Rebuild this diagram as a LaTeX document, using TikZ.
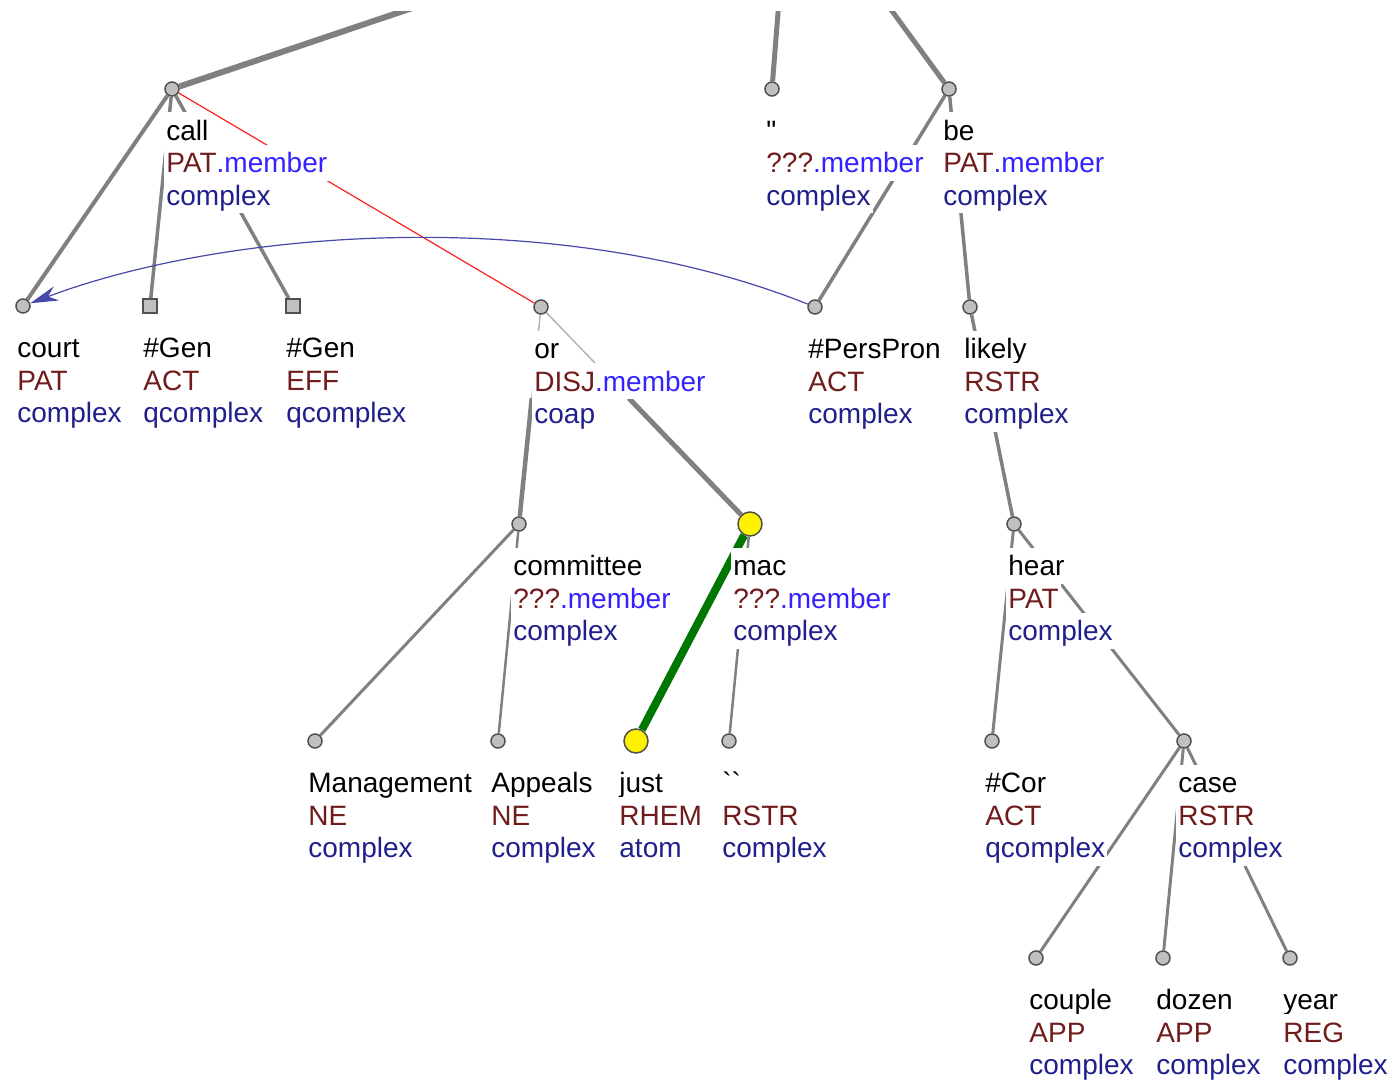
\documentclass[tikz,border=0pt]{standalone}
\usepackage{fontspec}
\setmainfont{Liberation Sans}
\newfontfamily\plainf{Liberation Sans}
\usetikzlibrary{calc,arrows.meta,backgrounds}
\definecolor{edgegray}{HTML}{808080}
\definecolor{edgelight}{HTML}{B4B4B4}
\definecolor{mkfill}{HTML}{C0C0C0}
\definecolor{mkline}{HTML}{505050}
\definecolor{fun}{HTML}{701C1C}
\definecolor{mem}{HTML}{3322FF}
\definecolor{typ}{HTML}{20208C}
\definecolor{redline}{HTML}{FF2020}
\definecolor{arrowblue}{HTML}{4848AA}
\definecolor{greenline}{HTML}{007700}
\newcommand\mb{\textcolor{mem}{.member}}
\newcommand\lab[5]{%
 \node[ln, text=black] (#1-a) at ($(#1)+(#2,51.5)$) {#3};
 \node[ln, text=fun] (#1-b) at ($(#1)+(#2,84)$) {#4};
 \node[ln, text=typ] (#1-c) at ($(#1)+(#2,116.5)$) {#5};
}
\begin{document}
\begin{tikzpicture}[x=0.5pt,y=-0.5pt,
 font=\fontsize{14}{16.25}\selectfont,
 mk/.style={circle, draw=mkline, fill=mkfill, line width=0.75pt, inner sep=0pt, minimum size=7pt},
 sq/.style={rectangle, draw=mkline, fill=mkfill, line width=0.75pt, inner sep=0pt, minimum size=7pt},
 yl/.style={circle, draw=mkline, fill=yellow, line width=0.75pt, inner sep=0pt, minimum size=12pt},
 ln/.style={anchor=base west, fill=white, inner xsep=1pt, inner ysep=0pt, text height=14pt, text depth=4pt},
 ed/.style={draw=edgegray, line width=1.75pt},
 edthin/.style={draw=edgelight, line width=0.75pt},
]
\useasboundingbox (0,0) rectangle (1394,1081);
% node markers
\node[mk] (call) at (172,89) {};
\node[mk] (court) at (23,306) {};
\node[sq] (genA) at (150,306) {};
\node[sq] (genE) at (293,306) {};
\node[mk] (or) at (541,307) {};
\node[mk] (quote) at (772,89) {};
\node[mk] (be) at (949,89) {};
\node[mk] (pp) at (815,307) {};
\node[mk] (likely) at (970,307) {};
\node[mk] (comm) at (519,524) {};
\node[yl] (mac) at (750,524) {};
\node[mk] (hear) at (1014,524) {};
\node[mk] (mgmt) at (315,741) {};
\node[mk] (appeals) at (498,741) {};
\node[yl] (just) at (636,741) {};
\node[mk] (bq) at (729,741) {};
\node[mk] (cor) at (992,741) {};
\node[mk] (case) at (1184,741) {};
\node[mk] (couple) at (1036,958) {};
\node[mk] (dozen) at (1163,958) {};
\node[mk] (year) at (1290,958) {};
\coordinate (calltop) at (436,0);
\coordinate (quotetop) at (779,0);
\coordinate (betop) at (884,0);
\coordinate (orcm) at ($(or)!0.42!(comm)$);
\coordinate (ormc) at ($(or)!0.42!(mac)$);
% edges
\begin{pgfonlayer}{background}
\begin{scope}
\clip (0,12) rectangle (1394,1081);
\draw[ed, line width=3pt] (call) -- (calltop);
\draw[ed, line width=2.5pt] (quote) -- (quotetop);
\draw[ed, line width=2.5pt] (be) -- (betop);
\end{scope}
\draw[ed, line width=2pt] (call) -- (court);
\draw[ed] (call) -- (genA);
\draw[ed] (call) -- (genE);
\draw[edthin] (or) -- (orcm);
\draw[ed, line width=2.25pt] (orcm) -- (comm);
\draw[edthin] (or) -- (ormc);
\draw[ed, line width=2.5pt] (ormc) -- (mac);
\draw[ed] (be) -- (pp);
\draw[ed] (be) -- (likely);
\draw[ed] (likely) -- (hear);
\draw[ed, line width=1.5pt] (hear) -- (cor);
\draw[ed, line width=1.5pt] (hear) -- (case);
\draw[ed, line width=1.5pt] (case) -- (couple);
\draw[ed, line width=1.5pt] (case) -- (dozen);
\draw[ed, line width=1.5pt] (case) -- (year);
\draw[ed, line width=1.5pt] (comm) -- (mgmt);
\draw[ed, line width=1.25pt] (comm) -- (appeals);
\draw[draw=greenline, line width=4pt] (mac) -- (just);
\draw[ed, line width=1.25pt] (mac) -- (bq);
\draw[draw=redline, line width=0.6pt] (call) -- (or);
\end{pgfonlayer}
% labels
\lab{call}{-8}{call}{PAT\mb}{complex}
\lab{court}{-8}{court}{PAT}{complex}
\lab{genA}{-9}{\#Gen}{ACT}{qcomplex}
\lab{genE}{-9}{\#Gen}{EFF}{qcomplex}
\lab{or}{-9}{or}{DISJ\mb}{coap}
\lab{quote}{-8}{{\plainf\symbol{34}}}{???\mb}{complex}
\lab{be}{-8}{be}{PAT\mb}{complex}
\lab{pp}{-9}{\#PersPron}{ACT}{complex}
\lab{likely}{-8}{likely}{RSTR}{complex}
\lab{comm}{-8}{committee}{???\mb}{complex}
\lab{mac}{-19}{mac}{???\mb}{complex}
\lab{hear}{-8}{hear}{PAT}{complex}
\lab{mgmt}{-9}{Management}{NE}{complex}
\lab{appeals}{-9}{Appeals}{NE}{complex}
\lab{just}{-19}{just}{RHEM}{atom}
\lab{bq}{-9}{{\plainf\symbol{96}\symbol{96}}}{RSTR}{complex}
\lab{cor}{-9}{\#Cor}{ACT}{qcomplex}
\lab{case}{-8}{case}{RSTR}{complex}
\lab{couple}{-9}{couple}{APP}{complex}
\lab{dozen}{-9}{dozen}{APP}{complex}
\lab{year}{-9}{year}{REG}{complex}
% coreference arrow
\draw[draw=arrowblue, line width=0.6pt, -{Stealth[length=14pt, width=7.5pt, inset=4.5pt]}]
 (pp) .. controls (560,205) and (230,228) .. (court);
\end{tikzpicture}
\end{document}
